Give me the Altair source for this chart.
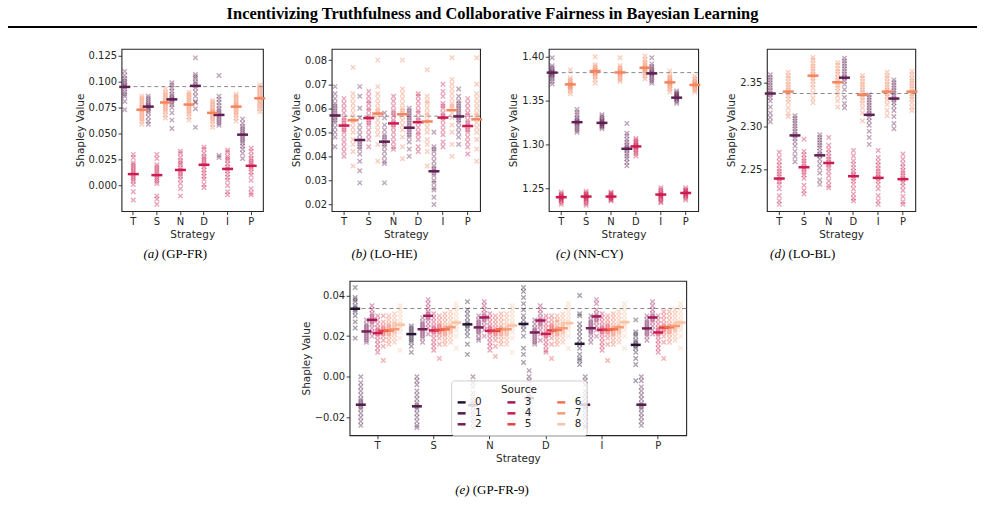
import altair as alt
import pandas as pd

STRATEGIES = ["T", "S", "N", "D", "I", "P"]
HEADER = "Incentivizing Truthfulness and Collaborative Fairness in Bayesian Learning"

# All values below are Shapley values in units of 1e-3.

# ---- (a) GP-FR -------------------------------------------------------------
GPFR_MEAN_0 = [95, 76, 83, 96, 68, 49]
GPFR_MEAN_1 = [11, 10, 15, 20, 16, 19]
GPFR_MEAN_2 = [73, 80, 78, 70, 76, 84]
GPFR_PTS_0 = [
    [110, 106, 103, 101, 99, 97, 96, 95, 93, 90, 88, 86, 81, 73],
    [86, 84, 82, 80, 78, 77, 76, 75, 74, 72, 70, 66, 62, 59],
    [99, 97, 94, 91, 88, 86, 84, 83, 82, 80, 78, 75, 70, 63, 55],
    [123, 107, 105, 103, 100, 98, 96, 94, 90, 86, 81, 80, 74, 56],
    [106, 86, 83, 80, 77, 74, 72, 70, 68, 66, 64, 62, 60, 58, 29, 27],
    [64, 60, 57, 55, 53, 51, 49, 47, 45, 43, 41, 38, 35, 31, 26],
]
GPFR_PTS_1 = [
    [30, 27, 22, 20, 18, 16, 14, 12, 10, 8, 6, 4, 1, -6, -14],
    [30, 26, 20, 18, 16, 14, 12, 10, 8, 6, 4, 2, -10, -13, -18],
    [33, 31, 27, 24, 22, 20, 17, 15, 13, 11, 9, 6, 2, -3, -10],
    [37, 35, 31, 28, 26, 24, 22, 20, 18, 15, 12, 9, 6, 1, -2],
    [34, 32, 28, 26, 24, 21, 18, 16, 14, 11, 8, 5, 0, -6, -9],
    [36, 33, 29, 26, 24, 22, 20, 18, 16, 13, 10, 5, -3, -7, -9],
]
GPFR_PTS_2 = [
    [86, 84, 82, 80, 78, 76, 75, 73, 72, 70, 68, 66, 64, 62, 59],
    [93, 90, 88, 86, 84, 82, 80, 79, 77, 75, 73, 71, 68, 65],
    [90, 88, 86, 84, 82, 80, 78, 77, 75, 73, 71, 69, 66, 63],
    [82, 80, 78, 76, 74, 72, 71, 70, 68, 66, 64, 62, 59, 56],
    [88, 86, 84, 82, 80, 78, 77, 76, 74, 72, 70, 68, 65, 62],
    [97, 95, 93, 91, 89, 87, 85, 84, 82, 80, 78, 76, 74, 71],
]
GPFR_REF = 95.3

# ---- (b) LO-HE -------------------------------------------------------------
LOHE_MEAN_0 = [57.0, 46.8, 46.1, 51.9, 33.8, 56.6]
LOHE_MEAN_1 = [52.8, 55.9, 53.7, 54.2, 56.1, 52.6]
LOHE_MEAN_2 = [55.0, 57.8, 57.5, 54.5, 59.2, 55.4]
LOHE_PTS_0 = [
    [69, 66, 64, 62, 61, 60, 59, 58, 57, 56, 55, 54, 52, 50, 48, 44],
    [69, 65, 60, 56, 53, 51, 49, 47, 46, 45, 44, 43, 41, 38, 34, 29],
    [58, 56, 53, 51, 49, 48, 47, 46, 45, 44, 42, 40, 38, 37, 29],
    [60, 59, 58, 57, 56, 55, 54, 53, 52, 51, 50, 49, 48, 46, 43, 40],
    [50, 44, 43, 42, 40, 38, 36, 35, 34, 33, 32, 30, 29, 27, 26, 23, 20],
    [68, 65, 63, 62, 61, 60, 59, 58, 57, 56, 55, 54, 52, 50, 48, 45],
]
LOHE_PTS_1 = [
    [64, 62, 60, 58, 56, 55, 54, 53, 52, 51, 50, 48, 46, 44, 42, 40],
    [67, 65, 63, 62, 60, 59, 57, 56, 55, 54, 53, 51, 49, 47, 44],
    [65, 63, 61, 59, 58, 57, 55, 54, 53, 52, 50, 48, 46, 44, 43],
    [66, 65, 63, 61, 59, 58, 56, 55, 54, 52, 50, 49, 47, 44, 42],
    [70, 67, 65, 62, 61, 60, 58, 57, 56, 55, 53, 51, 49, 46, 44],
    [64, 62, 60, 58, 57, 55, 54, 53, 52, 51, 50, 48, 46, 44, 41],
]
LOHE_PTS_2 = [
    [77, 66, 64, 62, 60, 58, 56, 55, 54, 52, 50, 47, 45, 42, 36],
    [80, 69, 66, 64, 62, 60, 59, 58, 57, 55, 53, 51, 49, 45, 38],
    [80, 68, 66, 64, 62, 60, 59, 58, 57, 55, 53, 51, 48, 44, 39],
    [76, 65, 63, 62, 60, 58, 57, 55, 54, 52, 50, 47, 45, 42, 36],
    [81, 72, 70, 68, 66, 64, 62, 61, 60, 58, 56, 53, 50, 45, 40],
    [81, 70, 66, 64, 62, 60, 58, 57, 56, 54, 52, 50, 47, 43, 38],
]
LOHE_REF = 56.7

# ---- (c) NN-CY -------------------------------------------------------------
NNCY_MEAN_0 = [1382.0, 1325.6, 1324.8, 1295.3, 1381.1, 1353.5]
NNCY_MEAN_1 = [1240.2, 1240.9, 1240.9, 1298.0, 1243.2, 1245.0]
NNCY_MEAN_2 = [1368.6, 1383.8, 1382.2, 1387.5, 1370.9, 1368.0]
NNCY_PTS_0 = [
    [1399, 1390, 1388, 1386, 1384, 1383, 1382, 1381, 1380, 1379, 1377, 1375, 1372, 1369],
    [1340, 1337, 1334, 1331, 1329, 1327, 1326, 1325, 1324, 1322, 1320, 1318, 1316, 1314],
    [1334, 1332, 1330, 1328, 1327, 1326, 1325, 1324, 1323, 1322, 1321, 1320, 1318],
    [1324, 1313, 1310, 1306, 1303, 1300, 1298, 1296, 1295, 1293, 1290, 1287, 1284, 1280, 1276],
    [1399, 1392, 1389, 1387, 1385, 1383, 1382, 1381, 1380, 1378, 1376, 1374, 1372, 1370],
    [1361, 1359, 1358, 1357, 1356, 1355, 1354, 1353, 1352, 1351, 1349, 1347],
]
NNCY_PTS_1 = [
    [1246, 1244, 1243, 1242, 1241, 1240, 1240, 1239, 1238, 1237, 1236, 1234, 1232],
    [1247, 1245, 1244, 1243, 1242, 1241, 1240, 1239, 1238, 1237, 1235, 1233, 1231],
    [1246, 1245, 1244, 1243, 1242, 1241, 1240, 1239, 1238, 1237, 1236],
    [1307, 1305, 1303, 1302, 1300, 1299, 1298, 1297, 1296, 1294, 1292, 1290, 1287],
    [1251, 1249, 1247, 1245, 1244, 1243, 1242, 1241, 1240, 1239, 1237, 1235, 1234],
    [1251, 1249, 1248, 1247, 1246, 1245, 1244, 1243, 1242, 1241, 1239, 1237],
]
NNCY_PTS_2 = [
    [1385, 1376, 1374, 1372, 1370, 1369, 1368, 1367, 1366, 1365, 1363, 1361, 1358],
    [1400, 1391, 1389, 1387, 1385, 1384, 1383, 1382, 1381, 1379, 1377, 1374, 1370],
    [1399, 1390, 1388, 1386, 1384, 1383, 1382, 1381, 1380, 1378, 1376, 1374, 1372],
    [1401, 1397, 1394, 1392, 1390, 1388, 1387, 1386, 1385, 1383, 1381, 1378, 1375],
    [1384, 1379, 1377, 1375, 1373, 1372, 1371, 1370, 1369, 1367, 1365, 1363, 1360],
    [1378, 1375, 1373, 1371, 1370, 1369, 1368, 1367, 1366, 1364, 1362, 1360],
]
NNCY_REF = 1382.0

# ---- (d) LO-BL -------------------------------------------------------------
LOBL_MEAN_0 = [2337.5, 2289.3, 2266.4, 2355.7, 2313.0, 2331.7]
LOBL_MEAN_1 = [2239.7, 2252.7, 2257.6, 2242.4, 2240.5, 2239.0]
LOBL_MEAN_2 = [2339.7, 2358.0, 2350.4, 2335.9, 2339.7, 2339.7]
LOBL_PTS_0 = [
    [2359, 2356, 2353, 2350, 2347, 2344, 2341, 2338, 2336, 2333, 2329, 2322, 2315, 2310, 2305],
    [2312, 2309, 2306, 2303, 2300, 2297, 2294, 2291, 2289, 2286, 2282, 2277, 2271, 2265, 2259],
    [2290, 2287, 2284, 2281, 2278, 2275, 2271, 2268, 2266, 2262, 2257, 2252, 2246, 2238, 2233],
    [2378, 2375, 2372, 2369, 2366, 2363, 2360, 2357, 2355, 2352, 2348, 2342, 2333, 2326, 2321],
    [2336, 2333, 2330, 2327, 2324, 2321, 2318, 2315, 2313, 2310, 2306, 2301, 2294, 2287, 2279],
    [2353, 2350, 2347, 2344, 2341, 2338, 2335, 2332, 2330, 2327, 2323, 2318, 2311, 2303, 2297],
]
LOBL_PTS_1 = [
    [2270, 2264, 2259, 2255, 2251, 2248, 2245, 2242, 2239, 2236, 2233, 2228, 2220, 2214, 2210],
    [2285, 2271, 2267, 2263, 2260, 2257, 2254, 2252, 2250, 2247, 2244, 2240, 2232, 2226, 2222],
    [2287, 2278, 2273, 2269, 2265, 2262, 2259, 2257, 2255, 2252, 2248, 2243, 2237, 2232, 2229],
    [2272, 2266, 2260, 2256, 2252, 2248, 2245, 2243, 2240, 2237, 2233, 2228, 2222, 2217, 2214],
    [2272, 2264, 2259, 2255, 2251, 2248, 2245, 2242, 2240, 2237, 2233, 2228, 2220, 2214, 2210],
    [2268, 2262, 2257, 2253, 2249, 2246, 2243, 2240, 2238, 2235, 2231, 2226, 2219, 2213, 2210],
]
LOBL_PTS_2 = [
    [2362, 2358, 2355, 2351, 2348, 2345, 2342, 2340, 2338, 2335, 2331, 2327, 2321, 2315, 2311],
    [2379, 2376, 2372, 2369, 2366, 2363, 2360, 2358, 2355, 2352, 2348, 2344, 2338, 2332, 2327],
    [2373, 2370, 2366, 2363, 2360, 2356, 2353, 2350, 2347, 2344, 2340, 2335, 2329, 2322],
    [2358, 2355, 2351, 2348, 2345, 2342, 2339, 2336, 2333, 2330, 2326, 2321, 2315, 2306],
    [2362, 2358, 2355, 2351, 2348, 2345, 2342, 2340, 2337, 2334, 2330, 2325, 2318, 2312],
    [2363, 2359, 2355, 2352, 2349, 2346, 2343, 2340, 2337, 2334, 2331, 2327, 2322, 2318],
]
LOBL_REF = 2337.5

# ---- (e) GP-FR-9 -----------------------------------------------------------
GPFR9_MEANS = [
    [33.5, 21.0, 25.8, 26.0, 16.2, 15.7],
    [-13.8, -14.6, -14.0, -10.5, -13.8, -13.8],
    [22.3, 23.4, 24.3, 21.8, 23.9, 23.8],
    [28.0, 30.0, 29.2, 27.7, 29.7, 29.2],
    [21.5, 22.8, 22.6, 21.1, 23.1, 21.8],
    [22.6, 23.1, 22.6, 22.8, 23.1, 24.2],
    [22.8, 23.4, 23.4, 23.1, 23.4, 24.4],
    [23.4, 24.4, 23.4, 23.9, 24.4, 25.0],
    [25.6, 26.7, 25.2, 26.4, 26.9, 26.7],
]
GPFR9_PTS_0 = [
    [44, 39, 38, 37, 35, 34, 33, 32, 30, 27, 24, 19],
    [25, 24, 23, 22, 21, 20, 19, 18, 17, 15, 12],
    [37, 33, 31, 29, 27, 26, 25, 24, 22, 20, 16, 11],
    [44, 42, 39, 36, 33, 30, 28, 26, 25, 23, 20, 14, 11, 7],
    [40, 31, 30, 26, 24, 22, 20, 18, 16, 14, 11, 9, 8, 6],
    [28, 22, 21, 20, 18, 17, 16, 15, 14, 12, 9, 6, -2],
]
GPFR9_PTS_1 = [
    [0, -3, -5, -7, -9, -11, -12, -13, -14, -15, -16, -18, -20, -22, -24],
    [0, -2, -4, -7, -9, -11, -13, -14, -15, -16, -18, -20, -22, -24, -25],
    [0, -3, -5, -8, -10, -12, -13, -14, -15, -17, -19, -21, -23, -25],
    [3, 0, -2, -5, -7, -9, -10, -11, -12, -14, -16, -18, -20, -22],
    [0, -2, -4, -7, -9, -11, -13, -14, -15, -16, -18, -20, -22, -24, -25],
    [0, -2, -5, -7, -9, -11, -13, -14, -15, -16, -18, -20, -22, -24],
]
GPFR9_PTS_2 = [
    [28, 26, 25, 24, 23, 22, 21, 20, 19, 18, 17],
    [29, 27, 26, 25, 24, 23, 22, 21, 20, 19, 17],
    [30, 28, 27, 26, 25, 24, 23, 22, 21, 19, 18],
    [28, 26, 24, 23, 22, 21, 20, 19, 18, 17, 16],
    [30, 28, 27, 26, 25, 24, 23, 22, 21, 19, 17],
    [30, 28, 27, 26, 25, 24, 23, 22, 21, 20, 18],
]
GPFR9_PTS_3 = [
    [35, 33, 31, 30, 29, 28, 27, 26, 24, 22, 20],
    [38, 36, 34, 32, 31, 30, 29, 28, 26, 24, 21],
    [37, 35, 33, 31, 30, 29, 28, 27, 25, 23, 20],
    [35, 33, 31, 29, 28, 27, 26, 25, 23, 21, 18],
    [38, 36, 33, 31, 30, 29, 28, 27, 25, 23, 20],
    [37, 35, 33, 31, 30, 29, 28, 27, 25, 23, 21],
]
GPFR9_PTS_4 = [
    [30, 28, 26, 24, 23, 22, 21, 20, 18, 16, 14, 12],
    [31, 29, 27, 25, 24, 23, 22, 21, 19, 17, 15, 13],
    [31, 29, 27, 25, 24, 23, 22, 21, 19, 17, 15, 13],
    [30, 28, 26, 24, 22, 21, 20, 19, 17, 15, 13, 12],
    [31, 29, 27, 25, 24, 23, 22, 21, 19, 17, 15, 13],
    [30, 28, 26, 24, 23, 22, 21, 20, 18, 16, 14, 12],
]
GPFR9_PTS_5 = [
    [30, 27, 25, 24, 23, 22, 21, 20, 18, 15, 8],
    [30, 28, 26, 25, 24, 23, 22, 21, 19, 16, 9],
    [30, 28, 26, 24, 23, 22, 21, 20, 18, 15, 10],
    [30, 28, 26, 25, 24, 23, 22, 21, 19, 16, 9],
    [30, 28, 26, 25, 24, 23, 22, 21, 19, 16, 8],
    [32, 30, 28, 26, 25, 24, 23, 22, 20, 17, 9],
]
GPFR9_PTS_6 = [
    [30, 28, 26, 25, 24, 23, 22, 21, 20, 18, 16],
    [31, 29, 27, 25, 24, 23, 22, 21, 20, 18, 16],
    [31, 29, 27, 25, 24, 23, 22, 21, 20, 18, 16],
    [30, 28, 27, 25, 24, 23, 22, 21, 20, 18, 16],
    [31, 29, 27, 25, 24, 23, 22, 21, 20, 18, 16],
    [32, 30, 28, 26, 25, 24, 23, 22, 21, 19, 17],
]
GPFR9_PTS_7 = [
    [31, 29, 27, 26, 25, 24, 23, 22, 21, 19, 17],
    [32, 30, 28, 26, 25, 24, 23, 22, 21, 19, 17],
    [31, 29, 27, 25, 24, 23, 22, 21, 20, 18, 16],
    [31, 29, 27, 26, 25, 24, 23, 22, 21, 19, 17],
    [32, 30, 28, 26, 25, 24, 23, 22, 21, 19, 17],
    [33, 31, 29, 27, 26, 25, 24, 23, 22, 20, 18],
]
GPFR9_PTS_8 = [
    [35, 33, 31, 29, 27, 26, 25, 24, 22, 19, 13],
    [36, 34, 32, 30, 28, 27, 26, 25, 23, 20, 14],
    [35, 33, 31, 29, 27, 26, 25, 24, 22, 19, 12],
    [36, 34, 32, 30, 28, 27, 26, 25, 23, 20, 14],
    [36, 34, 32, 30, 28, 27, 26, 25, 23, 20, 14],
    [36, 34, 32, 30, 28, 27, 26, 25, 23, 20, 14],
]
GPFR9_REF = 33.6

# Rocket-style palettes
COLORS3 = ["#601f53", "#cb1b4f", "#f4845d"]
COLORS9 = ["#241432", "#4d1c48", "#751f58", "#a11a5b", "#cb1b4f",
           "#e54045", "#f16f50", "#f59b76", "#f7c4a6"]

UNIT = 1e-3
INK = "#262626"
X_SHAPE = "M-1,-1L1,1M-1,1L1,-1"
BAR_SHAPE = "M-1,0L1,0"


def long_tables(points, means, keys):
    rows, mrows = [], []
    for src, (plist, mlist) in enumerate(zip(points, means)):
        base = {"Source": str(src), "Key": keys[src]}
        for strat, vals, m in zip(STRATEGIES, plist, mlist):
            rows += [dict(base, Strategy=strat, Value=v * UNIT) for v in vals]
            mrows.append(dict(base, Strategy=strat, Value=m * UNIT))
    return pd.DataFrame(rows), pd.DataFrame(mrows)


def caption(tag, name, cx, cy, tag_w, name_w):
    left = cx - (tag_w + 3.3 + name_w) / 2
    common = dict(font="Liberation Serif", fontSize=13, color="black",
                  baseline="middle", align="left")
    t1 = alt.Chart(pd.DataFrame({"t": [tag]})).mark_text(fontStyle="italic", **common).encode(
        x=alt.value(left), y=alt.value(cy), text="t:N")
    t2 = alt.Chart(pd.DataFrame({"t": [name]})).mark_text(**common).encode(
        x=alt.value(left + tag_w + 3.3), y=alt.value(cy), text="t:N")
    return [t1, t2]


def panel(points, means, ref, ydomain, yticks, yfmt, width, height, colors,
          keys, pad_outer, bar_len, cap, legend=None):
    pts, avg = long_tables(points, means, keys)
    sources = [str(i) for i in range(len(means))]
    x = alt.X("Strategy:N", sort=STRATEGIES,
              scale=alt.Scale(domain=STRATEGIES, paddingInner=0, paddingOuter=0),
              axis=alt.Axis(title="Strategy", labelAngle=0))
    xo = alt.XOffset("Source:N", scale=alt.Scale(domain=sources, paddingInner=0,
                                                 paddingOuter=pad_outer))
    y = alt.Y("Value:Q", scale=alt.Scale(domain=ydomain, nice=False, zero=False),
              axis=alt.Axis(title="Shapley Value", values=yticks, format=yfmt))
    color = alt.Color("Key:N",
                      scale=alt.Scale(domain=keys, range=colors),
                      legend=legend)

    rule = alt.Chart(pd.DataFrame({"Value": [ref * UNIT]})).mark_rule(
        color="#8a8a8a", strokeDash=[4, 3], strokeWidth=1).encode(y=y)
    dots = alt.Chart(pts).mark_point(
        shape=X_SHAPE, filled=False, strokeWidth=1.35, opacity=0.4, size=20
    ).encode(x=x, xOffset=xo, y=y, color=color)
    bars = alt.Chart(avg).mark_point(
        shape=BAR_SHAPE, filled=False, strokeWidth=2.5, opacity=1, size=bar_len ** 2
    ).encode(x=x, xOffset=xo, y=y, color=color)
    return alt.layer(rule, dots, bars, *caption(*cap)).properties(width=width, height=height)


def spacer(width):
    return alt.Chart(pd.DataFrame({"t": [0]})).mark_point(opacity=0, size=1).encode(
        x=alt.value(1), y=alt.value(0.5)
    ).properties(width=width, height=1, view=alt.ViewBackground(stroke="transparent"))


KEYS3 = ["0", "1", "2"]
YT_A = [0.0, 0.025, 0.05, 0.075, 0.1, 0.125]

pa = panel([GPFR_PTS_0, GPFR_PTS_1, GPFR_PTS_2], [GPFR_MEAN_0, GPFR_MEAN_1, GPFR_MEAN_2],
           GPFR_REF, [-0.0247, 0.1317], YT_A, ".3f", 142, 163, COLORS3, KEYS3, 0.375, 11,
           ("(a)", "(GP-FR)", 54, 206, 15.2, 45.5))
pb = panel([LOHE_PTS_0, LOHE_PTS_1, LOHE_PTS_2], [LOHE_MEAN_0, LOHE_MEAN_1, LOHE_MEAN_2],
           LOHE_REF, [0.01723, 0.0847], [0.02, 0.03, 0.04, 0.05, 0.06, 0.07, 0.08], ".2f",
           149, 163, COLORS3, KEYS3, 0.375, 11,
           ("(b)", "(LO-HE)", 53, 206, 15.2, 47.7))
pc = panel([NNCY_PTS_0, NNCY_PTS_1, NNCY_PTS_2], [NNCY_MEAN_0, NNCY_MEAN_1, NNCY_MEAN_2],
           NNCY_REF, [1.2243, 1.4091], [1.25, 1.30, 1.35, 1.40], ".2f",
           150, 163, COLORS3, KEYS3, 0.375, 11,
           ("(c)", "(NN-CY)", 41, 206, 14.4, 49.8))
pd_ = panel([LOBL_PTS_0, LOBL_PTS_1, LOBL_PTS_2], [LOBL_MEAN_0, LOBL_MEAN_1, LOBL_MEAN_2],
            LOBL_REF, [2.2022, 2.3889], [2.25, 2.30, 2.35], ".2f",
            149, 163, COLORS3, KEYS3, 0.375, 11,
            ("(d)", "(LO-BL)", 36, 206, 15.2, 47.0))

# Legend keys: a one-letter prefix sorts the entries so that the three legend
# columns read 0,1,2 | 3,4,5 | 6,7,8; the prefix is dropped from the labels.
KEYS9 = ["a0", "d1", "g2", "b3", "e4", "h5", "c6", "f7", "i8"]
legend9 = alt.Legend(
    title="Source", orient="none", legendX=102, legendY=100, columns=3,
    labelExpr="substring(datum.label, 1)", columnPadding=20, rowPadding=0,
    symbolType=BAR_SHAPE, symbolSize=64, symbolStrokeWidth=2.5, symbolOpacity=1,
    labelFont="DejaVu Sans", labelFontSize=10.5, labelColor=INK, labelOffset=8,
    titleFont="DejaVu Sans", titleFontSize=10.5, titleFontWeight="normal",
    titleColor=INK, titleAnchor="middle", titlePadding=1, padding=5,
    fillColor="rgba(255,255,255,0.8)", strokeColor="#d0d0d0", cornerRadius=3)

pe = panel([GPFR9_PTS_0, GPFR9_PTS_1, GPFR9_PTS_2, GPFR9_PTS_3, GPFR9_PTS_4,
            GPFR9_PTS_5, GPFR9_PTS_6, GPFR9_PTS_7, GPFR9_PTS_8], GPFR9_MEANS,
           GPFR9_REF, [-0.02885, 0.04723], [-0.02, 0.0, 0.02, 0.04], ".2f",
           338, 155, COLORS9, KEYS9, 1.0, 10,
           ("(e)", "(GP-FR-9)", 143, 210, 14.4, 56.3), legend=legend9)

header = alt.layer(
    alt.Chart(pd.DataFrame({"t": [HEADER]})).mark_text(
        font="Liberation Serif", fontWeight="bold", fontSize=16.5, color="black",
        align="center", baseline="middle").encode(
        x=alt.value(486.5), y=alt.value(12), text="t:N"),
    alt.Chart(pd.DataFrame({"t": [0]})).mark_rule(color="black", strokeWidth=2).encode(
        x=alt.value(0), x2=alt.value(973), y=alt.value(25)),
).properties(width=973, height=27, view=alt.ViewBackground(stroke="transparent"))

top_row = alt.hconcat(spacer(45), pa, pb, pc, pd_, spacing=20).resolve_scale(
    color="independent", xOffset="independent")
bottom_row = alt.hconcat(spacer(292), pe, spacing=0).resolve_scale(
    color="independent", xOffset="independent")

chart = alt.vconcat(header, top_row, bottom_row, spacing=18).resolve_scale(
    color="independent", xOffset="independent"
).properties(
    padding={"left": 6, "right": 6, "top": 0, "bottom": 0},
    background="white",
).configure_view(
    stroke=INK, strokeWidth=1.1
).configure_axis(
    labelFont="DejaVu Sans", labelFontSize=10, labelColor=INK,
    titleFont="DejaVu Sans", titleFontSize=10.5, titleFontWeight="normal",
    titleColor=INK, tickColor=INK, tickSize=3.5, tickWidth=0.9,
    domain=False, grid=False, labelPadding=1.5, titlePadding=3,
)

chart.save("out.html", embed_options={"renderer": "svg", "actions": False})
